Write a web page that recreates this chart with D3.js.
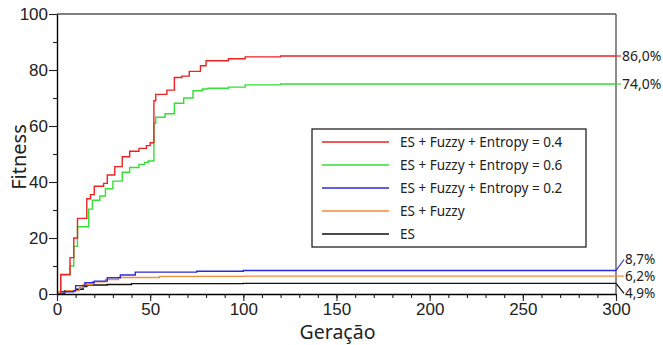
<!DOCTYPE html>
<html>
<head>
<meta charset="utf-8">
<script src="https://cdn.jsdelivr.net/npm/d3@7"></script>
<style>
  body { margin: 0; background: #fff; }
  svg { display: block; font-family: "Noto Sans", "Open Sans", sans-serif; }
</style>
</head>
<body>
<svg id="chart"></svg>
<script>
// step breakpoints: value holds from gen[i] until gen[i+1]
const redGen = [0, 2, 7, 9, 11, 16, 18, 20, 25, 27, 31, 35, 39, 44, 48, 50, 52, 53, 59, 63, 67, 71, 77, 80, 92, 101, 120, 300];
const redVal = [0, 7, 13, 20, 27, 34, 35.5, 38.5, 39.5, 42.5, 45.5, 49, 51, 52, 53, 54, 69, 71.3, 72.8, 77.3, 77.8, 79.5, 81.5, 83.3, 84, 84.7, 85, 85];
const greenGen = [0, 2, 7, 9, 11, 17, 19, 23, 26, 30, 35, 39, 44, 47, 49, 52, 53, 58, 63, 68, 73, 78, 81, 92, 101, 120, 300];
const greenVal = [0, 6.8, 10, 17, 24, 30.3, 33.5, 35, 37.6, 40.3, 43.5, 45.2, 46.3, 47, 47.5, 61, 63.1, 64.4, 68.1, 70, 72.6, 73.2, 73.5, 73.9, 74.7, 75, 75];
const blueGen = [0, 2, 9, 10, 15, 20, 27, 34, 42, 75, 100, 300];
const blueVal = [0, 0.8, 1.2, 3, 4, 4.6, 5.8, 6.8, 7.8, 8.1, 8.4, 8.4];
const orangeGen = [0, 1, 5, 12, 14, 19, 26, 33, 55, 100, 300];
const orangeVal = [0, 0.8, 1.2, 2.4, 3.4, 4.4, 5.2, 5.9, 6.3, 6.4, 6.4];
const blackGen = [0, 4, 10, 14, 16, 27, 40, 100, 300];
const blackVal = [0, 1.1, 1.7, 2.7, 3.2, 3.4, 3.7, 3.8, 3.8];

const seriesNames = ["ES + Fuzzy + Entropy = 0.4", "ES + Fuzzy + Entropy = 0.6", "ES + Fuzzy + Entropy = 0.2", "ES + Fuzzy", "ES"];
const seriesColors = ["#ee2222", "#33e033", "#2a2ae0", "#f58a3a", "#111111"];
const endLabels = ["86,0%", "74,0%", "8,7%", "6,2%", "4,9%"];
const xTicks = [0, 50, 100, 150, 200, 250, 300];
const yTicks = [0, 20, 40, 60, 80, 100];

const width = 663;
const height = 345;
const margin = { top: 14, right: 47, bottom: 51, left: 57 };

const series = [
  [redGen, redVal], [greenGen, greenVal], [blueGen, blueVal], [orangeGen, orangeVal], [blackGen, blackVal]
].map(([g, v], i) => ({
  name: seriesNames[i],
  color: seriesColors[i],
  label: endLabels[i],
  points: g.map((d, j) => ({ x: d, y: v[j] })),
}));

const $svg = d3.select("#chart").attr("width", width).attr("height", height);

const x = d3.scaleLinear().domain([0, 300]).range([margin.left, width - margin.right]);
const y = d3.scaleLinear().domain([0, 100]).range([height - margin.bottom, margin.top]);

// frame: black top, grey right
$svg.append("line")
  .attr("x1", x(0)).attr("x2", x(300)).attr("y1", y(100)).attr("y2", y(100))
  .attr("stroke", "#000").attr("stroke-width", 1.2);
$svg.append("line")
  .attr("x1", x(300)).attr("x2", x(300)).attr("y1", y(100)).attr("y2", y(0))
  .attr("stroke", "#666").attr("stroke-width", 1.5);

// lines
const line = d3.line().x((d) => x(d.x)).y((d) => y(d.y)).curve(d3.curveStepAfter);
$svg.append("g")
  .selectAll("path")
  .data(series.slice().reverse())
  .join("path")
  .attr("d", (d) => line(d.points))
  .attr("fill", "none")
  .attr("stroke", (d) => d.color)
  .attr("stroke-width", 1.4);

// axes
const $xAxis = $svg.append("g").attr("transform", `translate(0,${y(0)})`);
$xAxis.call(d3.axisBottom(x).tickValues(d3.range(0, 301, 10)).tickSize(4).tickFormat(""));
$xAxis.call((g) => g.select(".domain").remove());
$xAxis.append("g").call(d3.axisBottom(x).tickValues(xTicks).tickSize(7).tickSizeOuter(0))
  .call((g) => g.select(".domain").attr("stroke-width", 1.4))
  .call((g) => g.selectAll("text").attr("font-size", 17).attr("fill", "#222").attr("dy", "0.66em"));

const $yAxis = $svg.append("g").attr("transform", `translate(${x(0)},0)`);
$yAxis.call(d3.axisLeft(y).tickValues(d3.range(10, 100, 20)).tickSize(4).tickFormat(""));
$yAxis.call((g) => g.select(".domain").remove());
$yAxis.append("g").call(d3.axisLeft(y).tickValues(yTicks).tickSize(8).tickSizeOuter(0))
  .call((g) => g.select(".domain").attr("stroke-width", 1.4))
  .call((g) => g.selectAll("text").attr("font-size", 17).attr("fill", "#222").attr("x", -9));

$svg.selectAll(".tick line").attr("stroke", "#222").attr("stroke-width", 1.1);

// axis titles
$svg.append("text")
  .attr("x", (x(0) + x(300)) / 2 + 1)
  .attr("y", 339)
  .attr("text-anchor", "middle")
  .attr("font-size", 19.5)
  .attr("fill", "#222")
  .text("Geração");
$svg.append("text")
  .attr("transform", `translate(26,157) rotate(-90)`)
  .attr("text-anchor", "middle")
  .attr("font-size", 20)
  .attr("fill", "#222")
  .text("Fitness");

// end labels with small leader lines
const labelOffsets = [0, 0, -11, 0, 10];
const labelGaps = [5, 5, 8, 8, 8];
const $ends = $svg.append("g")
  .selectAll("g")
  .data(series)
  .join("g");
$ends.append("line")
  .attr("x1", x(300))
  .attr("y1", (d) => y(d.points[d.points.length - 1].y))
  .attr("x2", (d, i) => x(300) + labelGaps[i])
  .attr("y2", (d, i) => y(d.points[d.points.length - 1].y) + labelOffsets[i])
  .attr("stroke", (d) => d.color)
  .attr("stroke-width", 1.2);
$ends.append("text")
  .attr("x", (d, i) => x(300) + labelGaps[i] + 1)
  .attr("y", (d, i) => y(d.points[d.points.length - 1].y) + labelOffsets[i])
  .attr("dy", "0.35em")
  .attr("font-size", (d, i) => (i < 2 ? 14 : 13.5))
  .attr("fill", "#222")
  .text((d) => d.label);

// legend
const legendX = 312;
const legendY = 129;
const $legend = $svg.append("g").attr("transform", `translate(${legendX},${legendY})`);
$legend.append("rect")
  .attr("width", 274).attr("height", 118)
  .attr("fill", "#fff").attr("stroke", "#111").attr("stroke-width", 1.2);
const $items = $legend.selectAll(".item")
  .data(series)
  .join("g")
  .attr("class", "item")
  .attr("transform", (d, i) => `translate(0,${13 + i * 23})`);
$items.append("line")
  .attr("x1", 10).attr("x2", 77)
  .attr("stroke", (d) => d.color).attr("stroke-width", 1.4);
$items.append("text")
  .attr("x", 88)
  .attr("dy", "0.35em")
  .attr("font-size", 13.5)
  .attr("fill", "#222")
  .text((d) => d.name);
</script>
</body>
</html>
